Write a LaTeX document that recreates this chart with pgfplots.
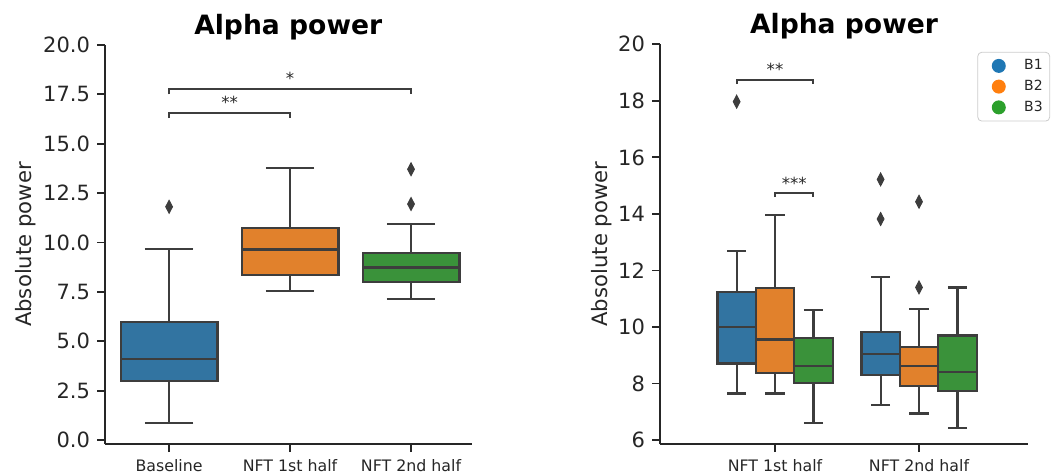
\documentclass[border=0pt]{standalone}
\usepackage{fontspec}
\setmainfont{DejaVu Sans}
\usepackage{pgfplots}
\pgfplotsset{compat=1.18}
\usepgfplotslibrary{statistics}
\definecolor{sbblue}{HTML}{3274A1}
\definecolor{sborange}{HTML}{E1812C}
\definecolor{sbgreen}{HTML}{3A923A}
\definecolor{edge}{HTML}{3D3D3D}
\definecolor{axc}{HTML}{262626}
\definecolor{tblue}{HTML}{1F77B4}
\definecolor{torange}{HTML}{FF7F0E}
\definecolor{tgreen}{HTML}{2CA02C}
\tikzset{st/.style={font=\fontsize{8.3}{10}\selectfont, text=axc, inner sep=0pt, anchor=center}}
\pgfplotsset{
  mystyle/.style={
    scale only axis,
    clip=false,
    boxplot/draw direction=y,
    boxplot/every box/.style={line width=1.1pt, draw=edge},
    boxplot/every whisker/.style={line width=1.1pt, draw=edge},
    boxplot/every median/.style={line width=1.1pt, draw=edge},
    axis x line*=bottom, axis y line*=left,
    axis line style={-, axc, line width=0.9pt},
    tick align=outside,
    major tick length=4pt,
    tick style={axc, line width=0.9pt},
    minor tick num=0,
    /pgf/number format/assume math mode=true,
    yticklabel style={font=\fontsize{10.5}{12}\selectfont, text=axc},
    xticklabel style={font=\fontsize{7.9}{9}\selectfont, text=axc},
    ylabel style={font=\fontsize{10.6}{12}\selectfont, text=axc},
    title style={font=\fontsize{13.3}{15}\selectfont\bfseries, at={(0.5,1)}, anchor=base, yshift=-0.5pt},
  },
  bx/.style={boxplot prepared={#1}, line width=1.1pt, draw=edge, solid, mark=diamond*, mark size=3.2pt, mark options={fill=edge, draw=edge, line width=0.5pt, xscale=0.7}},
  br/.style={edge, line width=1.0pt},
  lg/.style={legend image code/.code={\fill[#1, draw=none] (0,0) circle (3.5pt); \path[draw=none, fill=none] (-9pt,0) (10.7pt,0);}},
}
\begin{document}
\begin{tikzpicture}
\begin{axis}[mystyle, at={(52.5pt,14.5pt)}, anchor=south west,
  width=183.25pt, height=199.5pt,
  xmin=-0.53, xmax=2.5, ymin=-0.2, ymax=20,
  ytick={0,2.5,5,7.5,10,12.5,15,17.5,20},
  y tick label style={/pgf/number format/.cd, fixed, fixed zerofill, precision=1},
  xtick={0,1,2}, xticklabels={Baseline, NFT 1st half, NFT 2nd half},
  ylabel={Absolute power},
  ylabel style={at={(axis description cs:-0.2156,0.5)}, anchor=center},
  title={Alpha power}]
\addplot[bx={draw position=0, lower whisker=0.85, lower quartile=3.0, median=4.12, upper quartile=5.96, upper whisker=9.69, box extend=0.8, whisker extend=0.4}, fill=sbblue] coordinates {(0,11.81)};
\addplot[bx={draw position=1, lower whisker=7.56, lower quartile=8.37, median=9.65, upper quartile=10.72, upper whisker=13.77, box extend=0.8, whisker extend=0.4}, fill=sborange] coordinates {};
\addplot[bx={draw position=2, lower whisker=7.16, lower quartile=8.0, median=8.74, upper quartile=9.45, upper whisker=10.92, box extend=0.8, whisker extend=0.4}, fill=sbgreen] coordinates {(2,11.95) (2,13.71)};
\addplot[br] coordinates {(0,16.3) (0,16.56) (1,16.56) (1,16.3)};
\addplot[br] coordinates {(0,17.5) (0,17.76) (2,17.76) (2,17.5)};
\node[st] at (axis cs:0.5,17.11) {**};
\node[st] at (axis cs:1,18.33) {*};
\end{axis}
\begin{axis}[mystyle, at={(330pt,14.5pt)}, anchor=south west,
  width=184pt, height=199.85pt,
  xmin=-0.799, xmax=1.757, ymin=5.86, ymax=20,
  ytick={6,8,10,12,14,16,18,20},
  xtick={0,1}, xticklabels={NFT 1st half, NFT 2nd half},
  ylabel={Absolute power},
  ylabel style={at={(axis description cs:-0.158,0.5)}, anchor=center},
  title={Alpha power},
  legend cell align=left,
  legend style={at={(1.06,0.981)}, anchor=north east, draw=black!20, rounded corners=2pt,
    font=\fontsize{7}{8}\selectfont, text=axc, row sep=-0.3pt, inner xsep=1.5pt, inner ysep=1.5pt},
  ]
\addlegendimage{lg=tblue}
\addlegendentry{B1}
\addlegendimage{lg=torange}
\addlegendentry{B2}
\addlegendimage{lg=tgreen}
\addlegendentry{B3}
\addplot[forget plot, bx={draw position=-0.2667, lower whisker=7.65, lower quartile=8.71, median=10.01, upper quartile=11.23, upper whisker=12.68, box extend=0.2667, whisker extend=0.1333}, fill=sbblue] coordinates {(-0.2667,17.97)};
\addplot[forget plot, bx={draw position=0, lower whisker=7.65, lower quartile=8.38, median=9.56, upper quartile=11.38, upper whisker=13.95, box extend=0.2667, whisker extend=0.1333}, fill=sborange] coordinates {};
\addplot[forget plot, bx={draw position=0.2667, lower whisker=6.59, lower quartile=8.03, median=8.63, upper quartile=9.60, upper whisker=10.61, box extend=0.2667, whisker extend=0.1333}, fill=sbgreen] coordinates {};
\addplot[forget plot, bx={draw position=0.7333, lower whisker=7.23, lower quartile=8.31, median=9.03, upper quartile=9.82, upper whisker=11.76, box extend=0.2667, whisker extend=0.1333}, fill=sbblue] coordinates {(0.7333,13.82) (0.7333,15.22)};
\addplot[forget plot, bx={draw position=1, lower whisker=6.94, lower quartile=7.92, median=8.62, upper quartile=9.30, upper whisker=10.65, box extend=0.2667, whisker extend=0.1333}, fill=sborange] coordinates {(1,11.40) (1,14.43)};
\addplot[forget plot, bx={draw position=1.2667, lower whisker=6.42, lower quartile=7.73, median=8.40, upper quartile=9.70, upper whisker=11.40, box extend=0.2667, whisker extend=0.1333}, fill=sbgreen] coordinates {};
\addplot[forget plot, br] coordinates {(-0.2667,18.59) (-0.2667,18.74) (0.2667,18.74) (0.2667,18.59)};
\addplot[forget plot, br] coordinates {(0,14.59) (0,14.73) (0.2667,14.73) (0.2667,14.59)};
\node[st] at (axis cs:0,19.13) {**};
\node[st] at (axis cs:0.1333,15.09) {***};
\end{axis}
\pgfresetboundingbox
\path[use as bounding box] (0,0) rectangle (529.5pt,236.5pt);
\end{tikzpicture}
\end{document}
